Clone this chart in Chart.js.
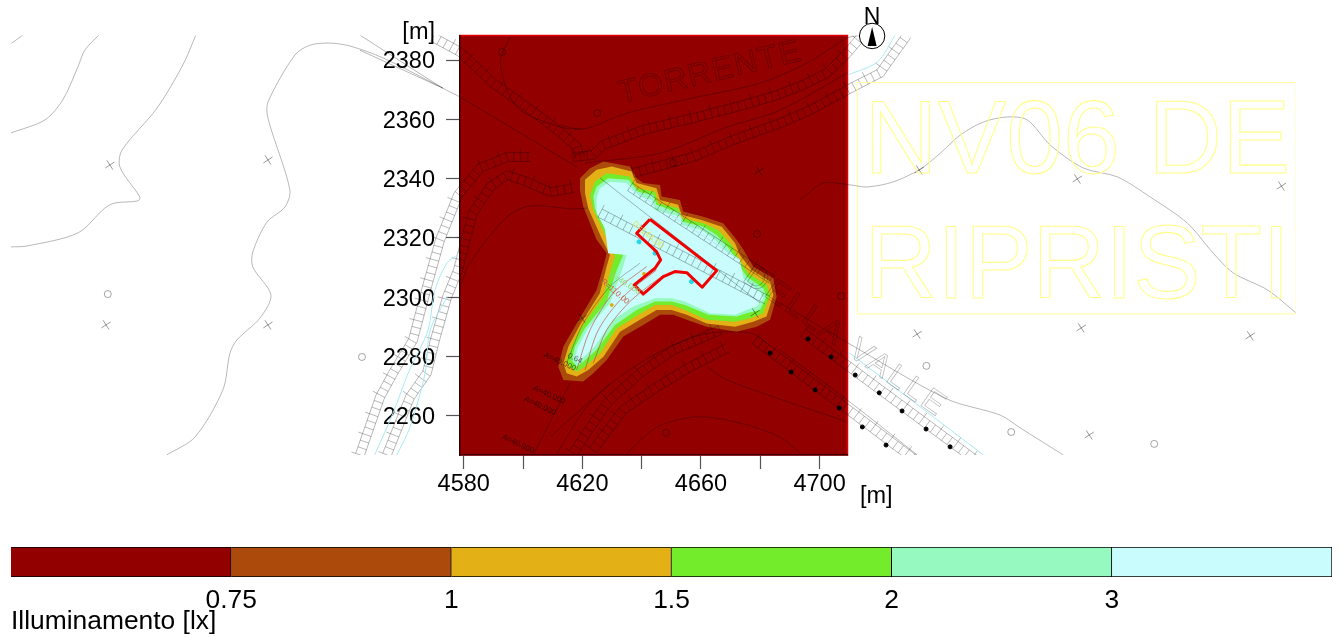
<!DOCTYPE html>
<html lang="en">

<head>
    <meta charset="UTF-8">
    <title>Illuminamento</title>
    <script src="https://cdn.jsdelivr.net/npm/chart.js"></script>
    <style>
        body {
            margin: 0;
            background: #fff;
        }

        canvas {
            position: absolute;
            left: 0;
        }

        #mapChart {
            top: 0;
        }

        #barChart {
            top: 510px;
        }
    </style>
</head>

<body>
    <canvas id="mapChart" width="1339" height="510"></canvas>
    <canvas id="barChart" width="1339" height="127"></canvas>
    <script>
        // axes
        const xTicks = [4580, 4600, 4620, 4640, 4660, 4680, 4700];
        const xTickLabels = ['4580', '', '4620', '', '4660', '', '4700'];
        const yTicks = [2260, 2280, 2300, 2320, 2340, 2360, 2380];
        const xRange = [4578.75, 4709.4];
        const yRange = [2246.85, 2388.26];

        // colour bar
        const bandLabels = ['< 0.75', '0.75 - 1', '1 - 1.5', '1.5 - 2', '2 - 3', '> 3'];
        const bandColors = ['#930000', '#ab4a0a', '#e3b015', '#72ec2b', '#96f9bf', '#c9fcfc'];
        const bandWidths = [1, 1, 1, 1, 1, 1];
        const barTickValues = [1, 2, 3, 4, 5];
        const barTickLabels = ['0.75', '1', '1.5', '2', '3'];

        // illuminance contours, metres
        const contour075 = [[4619.2, 2340.1], [4622.6, 2343.5], [4627.1, 2345.8], [4636, 2344.1], [4638.3, 2340.1], [4640.5, 2338.5], [4646.2, 2337.9], [4646.7, 2334], [4652.9, 2332.8], [4654, 2328.9], [4660.8, 2327.2], [4667.5, 2325], [4672, 2319.4], [4674.3, 2316], [4677.6, 2310.4], [4684.4, 2306.4], [4685.5, 2300.2], [4683.3, 2292.4], [4678.8, 2290.1], [4672, 2288.4], [4661.9, 2290.1], [4655.2, 2292.4], [4650.7, 2294.1], [4646.2, 2294.1], [4640.5, 2290.7], [4633.8, 2286.8], [4628.2, 2278.9], [4623.7, 2274.4], [4620.3, 2271.6], [4613.6, 2272.1], [4611.9, 2276.6], [4613.6, 2283.4], [4618.1, 2291.2], [4624.8, 2302.5], [4627.1, 2310.4], [4628.2, 2314.9], [4624.8, 2319.4], [4620.3, 2330.6], [4619.2, 2336.2]];
        const contour1 = [[4620.9, 2339.6], [4624.8, 2343], [4629.9, 2344.1], [4636.6, 2342.4], [4638.3, 2338.5], [4645, 2336.8], [4646.2, 2332.8], [4652.3, 2331.2], [4653.5, 2327.8], [4660.2, 2326.1], [4667, 2323.8], [4671.5, 2318.2], [4673.1, 2314.3], [4677.1, 2309.2], [4683.3, 2305.3], [4684.4, 2300.8], [4682.1, 2293.5], [4677.6, 2291.8], [4671.5, 2290.1], [4661.9, 2291.2], [4655.2, 2294.1], [4650.1, 2295.7], [4645, 2295.7], [4639.4, 2292.4], [4632.7, 2288.4], [4627.1, 2280], [4622, 2275.5], [4618.1, 2273.3], [4614.7, 2274.4], [4613.6, 2277.8], [4615.3, 2283.4], [4619.2, 2290.7], [4625.9, 2301.4], [4628.2, 2310.4], [4629.3, 2314.3], [4626.5, 2319.9], [4622, 2330], [4620.9, 2335.1]];
        const contour15 = [[4624.2, 2339], [4628.2, 2341.8], [4636, 2340.7], [4638.3, 2336.8], [4644.5, 2335.6], [4645.6, 2331.7], [4652.3, 2330], [4653.5, 2326.7], [4660.8, 2325], [4665.8, 2322.7], [4670.3, 2317.7], [4672.6, 2313.2], [4675.9, 2308.1], [4682.1, 2304.2], [4683.3, 2300.8], [4681, 2294.6], [4676.5, 2292.9], [4671.5, 2291.8], [4661.9, 2292.4], [4654.6, 2295.7], [4650.1, 2297.4], [4644.5, 2297.4], [4638.9, 2294.1], [4631.6, 2289.6], [4625.9, 2281.1], [4620.9, 2276.6], [4618.1, 2274.9], [4615.8, 2276.6], [4614.7, 2278.9], [4616.4, 2283.4], [4619.8, 2290.1], [4627.1, 2300.2], [4629.9, 2310.4], [4631, 2313.7], [4628.2, 2319.9], [4623.7, 2329.5], [4622.6, 2334.5]];
        const contour2 = [[4624.8, 2337.3], [4628.7, 2340.1], [4635.5, 2339.6], [4638.9, 2335.6], [4643.9, 2334.5], [4645, 2331.2], [4652.9, 2328.3], [4654, 2325.5], [4660.8, 2323.8], [4665.3, 2321], [4669.8, 2316], [4672, 2312], [4675.4, 2307], [4681, 2303.1], [4682.1, 2300.2], [4679.9, 2295.7], [4675.4, 2294.6], [4672, 2293.5], [4662.5, 2294.1], [4654.6, 2297.4], [4650.1, 2298.6], [4644.5, 2298.6], [4638.3, 2295.7], [4631, 2290.7], [4624.8, 2282.3], [4620.3, 2278.3], [4618.1, 2276.6], [4616.4, 2278.9], [4617.5, 2283.4], [4620.9, 2289.6], [4628.2, 2298.6], [4631.6, 2309.2], [4633.8, 2314.3], [4629.3, 2317.1], [4627.1, 2324.4], [4624.2, 2330], [4623.7, 2334]];
        const contour3 = [[4625.9, 2336.8], [4629.3, 2339], [4634.9, 2338.5], [4639.4, 2334], [4643.4, 2332.8], [4644.5, 2329.5], [4652.9, 2327.2], [4653.5, 2324.4], [4660.2, 2322.7], [4664.7, 2319.4], [4669.2, 2314.9], [4673.1, 2312.6], [4674.3, 2306.4], [4679.9, 2301.9], [4681, 2299.7], [4678.8, 2296.9], [4675.4, 2295.7], [4671.5, 2294.1], [4663, 2294.6], [4654.6, 2298.6], [4650.1, 2299.7], [4644.5, 2299.7], [4637.2, 2296.9], [4630.4, 2292.4], [4624.2, 2283.4], [4619.8, 2279.4], [4618.6, 2277.8], [4617.5, 2280], [4618.6, 2283.4], [4622, 2289.6], [4629.3, 2298], [4633.2, 2308.7], [4634.9, 2314.3], [4628.7, 2314.9], [4627.6, 2323.3], [4624.8, 2328.3], [4624.8, 2333.4]];
        const building = [[4642.8, 2326.3], [4665.3, 2309], [4660.4, 2303.4], [4655.2, 2308.3], [4651.2, 2308.7], [4647.3, 2307], [4640.5, 2301.1], [4637.5, 2304.2], [4644.5, 2309.8], [4646.4, 2312.6], [4645, 2315.4], [4638.3, 2321.6], [4642.8, 2326.3]];

        // base map, thin lines
        const mapLines = [
            [[4427.6, 2385.7], [4431.4, 2388.4]],
            [[4427.3, 2355.4], [4438.8, 2359.8], [4444.8, 2366.5], [4449.9, 2377.6], [4452.3, 2383.4], [4457, 2388.4]],
            [[4427.3, 2317], [4432.7, 2317.3], [4449.9, 2321.7], [4459, 2330.1], [4462.4, 2331.8], [4470.1, 2332.5], [4470.8, 2333.8], [4464.1, 2343.9], [4464.8, 2349.6], [4476.6, 2363.8], [4485.3, 2378.3], [4489.7, 2388.4]],
            [[4479.9, 2246.9], [4489.4, 2252.9], [4498.8, 2268.8], [4501.2, 2281.2], [4503.5, 2285.6], [4511.3, 2293], [4515, 2300.8], [4508.9, 2310.2], [4508.9, 2315.3], [4513.7, 2325.4], [4519.7, 2330.4], [4521.4, 2336.2], [4514, 2360.4], [4514, 2365.8], [4523.1, 2381.7], [4528.2, 2385], [4534.9, 2385.7], [4541.7, 2384.7], [4552.8, 2380.7], [4573, 2370.5]],
            [[4693.4, 2332.8], [4701.2, 2338.5], [4710.3, 2337.9], [4716, 2337.2], [4724.8, 2338.9], [4733.9, 2343.2], [4740.7, 2348.6], [4747.4, 2354.7], [4755.2, 2359.1], [4763.3, 2360.8], [4770, 2359.8], [4777.8, 2351.3], [4788.9, 2343.6], [4800.4, 2340.6], [4811.5, 2333.8], [4824, 2325], [4832.7, 2314.9], [4839.5, 2308.2], [4851, 2302.5], [4860.7, 2294.7]],
            [[4545, 2388.4], [4573, 2370.5], [4578.8, 2367.5], [4618.2, 2343.9]],
            [[4545, 2383.3], [4573, 2370.5]],
            [[4612.5, 2358.1], [4620.2, 2356.7], [4635.1, 2362.1], [4657.3, 2367.2], [4679.9, 2372.2], [4695.8, 2379], [4709.3, 2387.4], [4714.4, 2388.4]],
            [[4595.6, 2387.7], [4592.3, 2379], [4598, 2364.1], [4612.5, 2357.4], [4620.2, 2356.7]],
            [[4620.9, 2345.3], [4646.2, 2348.6], [4668.8, 2357.4], [4686.7, 2363.1], [4709.3, 2375.6]],
            [[4578.8, 2303.5], [4582.1, 2311.6], [4594.6, 2327.1], [4602.4, 2330.8], [4616.9, 2329.8], [4621.6, 2330.1]],
            [[4686.7, 2298.1], [4709.6, 2284.6], [4743, 2265.7], [4760.9, 2260.3], [4767.6, 2256], [4782.1, 2246.9]],
            [[4686.7, 2282.2], [4709.3, 2265.4], [4732.9, 2246.9]],
            [[4662.1, 2276.5], [4668.8, 2272.1], [4709.3, 2258]],
            [[4635.1, 2247.5], [4645.2, 2256.3], [4658.7, 2259.7], [4673.2, 2257.6], [4686.7, 2252.9], [4693.4, 2247.5]],
            [[4611.5, 2247.5], [4622.6, 2264.4], [4639.5, 2277.9], [4659.7, 2287.3], [4676.6, 2288], [4682.3, 2284.6]],
            [[4603.4, 2246.9], [4615.9, 2271.1]],
            [[4609.1, 2252.9], [4629.4, 2271.1]],
            [[4626, 2340.2], [4679.9, 2298.1]],
            [[4614.7, 2277.8], [4620.3, 2291.2], [4629.3, 2303.6], [4639.4, 2311.5]]
        ];
        const waterLines = [
            [[4709.6, 2281.6], [4755.2, 2246.9]],
            [[4635.4, 2337.2], [4673.2, 2312.6]],
            [[4550, 2246.9], [4556.2, 2261], [4561.3, 2274.5], [4568, 2289], [4570.3, 2302.5], [4574.4, 2311.6], [4578.1, 2314.3]],
            [[4557.5, 2246.9], [4561.9, 2256.3], [4567, 2274.5], [4568.7, 2289], [4574.4, 2300.1]],
            [[4709.6, 2375], [4719.4, 2379.3], [4725.5, 2388.4]]
        ];
        const arcLines = [
            [[4618.1, 2275.5], [4622.6, 2289], [4630.4, 2301.4], [4641.7, 2310.4]],
            [[4620.9, 2275.5], [4625.4, 2289], [4633.8, 2300.2], [4645, 2309.2]],
            [[4623.7, 2277.8], [4628.2, 2289], [4636.6, 2299.1], [4647.3, 2307.5]]
        ];
        const frameLine = [[4712.7, 2372.4], [4860.7, 2372.4], [4860.7, 2294.4], [4712.7, 2294.4], [4712.7, 2372.4]];

        // hatched roads
        const roads = [
            [[4545, 2246.9], [4551.8, 2266.4], [4556.2, 2274.5], [4562.9, 2285.6], [4567.6, 2303.5], [4572, 2319.3], [4578.1, 2334.5], [4585.5, 2343.6], [4594.6, 2347.3], [4602.4, 2347.3]],
            [[4554.1, 2246.9], [4561.9, 2266.4], [4567.6, 2274.5], [4570.3, 2285.6], [4574.4, 2300.1], [4578.1, 2309.2], [4580.4, 2318.3], [4583.1, 2328.4], [4588.9, 2337.2], [4594.6, 2341.2], [4601.4, 2338.9], [4609.1, 2335.5], [4616.9, 2336.8]],
            [[4569.6, 2387.7], [4578.8, 2382.7], [4589.9, 2372.2], [4601.4, 2364.1], [4612.5, 2355.7], [4618.2, 2350.7], [4619.2, 2347.3]],
            [[4616.9, 2347.3], [4623.6, 2348], [4627, 2351.3], [4640.5, 2356.4], [4657.3, 2360.4], [4674.2, 2364.8], [4685.7, 2368.2], [4694.5, 2371.6], [4702.5, 2375.6], [4709.3, 2382.3], [4713.6, 2387.4], [4715, 2388.4]],
            [[4637.1, 2341.9], [4657.3, 2347.3], [4670.8, 2353], [4686.7, 2358.7], [4696.8, 2363.1], [4709.3, 2369.9], [4720.4, 2375.6], [4729.5, 2388.4]],
            [[4626, 2328.4], [4682.3, 2299.1]],
            [[4636.1, 2337.2], [4684.3, 2305.8]],
            [[4694.5, 2288], [4752.5, 2245.2]],
            [[4678.3, 2285.6], [4732.2, 2245.2]],
            [[4616.9, 2247.5], [4628.3, 2264.4], [4639.5, 2274.5], [4650.6, 2282.2], [4666.5, 2289]],
            [[4623.6, 2248.5], [4633.7, 2262], [4645.2, 2269.8], [4656.3, 2276.5], [4668.8, 2282.9]]
        ];

        // point symbols
        const crossPoints = [[4460.7, 2344.6], [4514, 2346.3], [4459.4, 2290.7], [4514, 2290.7], [4733.6, 2342.9], [4786.9, 2339.9], [4855.7, 2337.5], [4732.9, 2287.6], [4788.2, 2289.7], [4845.2, 2287], [4790.9, 2253.6], [4679.6, 2342.6], [4678.3, 2294.7], [4619.9, 2293]];
        const circlePoints = [[4460, 2301.1], [4545.7, 2279.9], [4592.9, 2382.7], [4625, 2362.1], [4736, 2276.9], [4764.6, 2254.6], [4812.8, 2250.6], [4648.2, 2254.3], [4678.9, 2321.3], [4707.3, 2300.4], [4650.6, 2345.3]];
        const lampPoints = [[4696.1, 2286], [4703.9, 2279.9], [4712, 2273.8], [4720.1, 2267.8], [4727.8, 2261.7], [4735.9, 2255.6], [4744, 2249.6], [4683.3, 2281.2], [4690.4, 2274.8], [4698.5, 2268.8], [4706.6, 2262.7], [4714.4, 2256.3], [4722.4, 2250.2]];
        const cyanPoints = [[4639.1, 2318.7], [4644.5, 2314.9], [4656.8, 2305.3]];
        const yellowPoints = [[4640.8, 2307.9], [4629.9, 2297.4]];

        // map texts
        const mapTexts = [
            { text: 'TORRENTE', at: [4663.1, 2375.6], rot: -13.4, font: '32px "Liberation Sans"', color: 'rgba(0,0,0,.3)', outline: true, spacing: '1.5px' },
            { text: 'DELLA VALLE', at: [4708.6, 2284.9], rot: 35, font: '32px "Liberation Sans"', color: 'rgba(0,0,0,.28)', outline: true, spacing: '3px' },
            { text: 'A=40.000', at: [4608.8, 2267.1], rot: 25, font: '8px "Liberation Sans"', color: 'rgba(0,0,0,.6)' },
            { text: 'A=40.000', at: [4605.7, 2263.4], rot: 25, font: '8px "Liberation Sans"', color: 'rgba(0,0,0,.6)' },
            { text: 'A=40.000', at: [4598.3, 2250.6], rot: 25, font: '8px "Liberation Sans"', color: 'rgba(0,0,0,.6)' },
            { text: 'A=40.000', at: [4612.4, 2278.3], rot: 25, font: '8px "Liberation Sans"', color: 'rgba(0,0,0,.6)' },
            { text: '0.64', at: [4617.5, 2279.4], rot: 25, font: '8px "Liberation Sans"', color: 'rgba(0,0,0,.6)' },
            { text: '0=144.00', at: [4642.2, 2321], rot: 40, font: '9px "Liberation Sans"', color: '#d8e86a' },
            { text: 'A=40.000', at: [4634.4, 2304.7], rot: 32, font: '8px "Liberation Sans"', color: '#8fd86a' },
            { text: 'R=110.00', at: [4631, 2301.9], rot: 40, font: '8px "Liberation Sans"', color: '#c8604a' }
        ];
        const bigTexts = [
            { text: 'NV06 DE', at: [4715, 2341.9], width: 143.7 },
            { text: 'RIPRISTI', at: [4715, 2299.8], width: 143.7 }
        ];
        const northPoint = [4717.7, 2388.1];

        const tickFont = { family: '"Liberation Sans"', size: 23.5 };
        const barFont = { family: '"Liberation Sans"', size: 26.4 };
        const xy = (list) => list.map(([x, y]) => ({ x, y }));

        function lineSet(label, list, color, width, extra) {
            return Object.assign({
                label: label,
                data: xy(list),
                showLine: true,
                borderColor: color,
                borderWidth: width,
                pointRadius: 0,
                clip: { left: 449, right: 448, top: 0, bottom: 0 }
            }, extra);
        }

        function pointSet(label, list, style, radius, color, order) {
            return {
                label: label,
                data: xy(list),
                showLine: false,
                order: order,
                pointStyle: style,
                pointRadius: radius,
                pointRotation: style === 'crossRot' ? 12 : 0,
                pointBorderWidth: 1,
                pointBorderColor: color,
                pointBackgroundColor: style === 'circle' && radius < 3 ? color : 'transparent'
            };
        }

        const bands = [
            { name: '0.75', list: contour075, color: bandColors[1], order: 54 },
            { name: '1', list: contour1, color: bandColors[2], order: 53 },
            { name: '1.5', list: contour15, color: bandColors[3], order: 52 },
            { name: '2', list: contour2, color: bandColors[4], order: 51 },
            { name: '3', list: contour3, color: bandColors[5], order: 50 }
        ];

        const datasets = [];
        datasets.push(lineSet('base', [[xRange[0], yRange[0]], [xRange[1], yRange[0]], [xRange[1], yRange[1]], [xRange[0], yRange[1]], [xRange[0], yRange[0]]], '#e00000', 1.5, {
            order: 60, fill: 'shape', backgroundColor: bandColors[0], clip: 2
        }));
        bands.forEach((b) => {
            datasets.push(lineSet(b.name, b.list.concat([b.list[0]]), b.color, 0, {
                order: b.order, fill: 'shape', backgroundColor: b.color, clip: 0
            }));
        });
        mapLines.forEach((l, i) => datasets.push(lineSet('map' + i, l, 'rgba(0,0,0,.28)', 1, { order: 30, tension: 0.3 })));
        waterLines.forEach((l, i) => datasets.push(lineSet('water' + i, l, '#a9e9f5', 1, { order: 31, tension: 0.3 })));
        arcLines.forEach((l, i) => datasets.push(lineSet('arc' + i, l, 'rgba(190,60,60,.6)', 1, { order: 29, tension: 0.3 })));
        datasets.push(lineSet('frame', frameLine, '#ffff99', 1, { order: 32 }));
        datasets.push(lineSet('building', building, '#f00000', 3, { order: 5, borderJoinStyle: 'round' }));
        datasets.push(pointSet('cross', crossPoints, 'crossRot', 5.5, 'rgba(0,0,0,.4)', 20));
        datasets.push(pointSet('circle', circlePoints, 'circle', 3.5, 'rgba(0,0,0,.35)', 20));
        datasets.push(pointSet('lamp', lampPoints, 'circle', 2, '#000', 10));
        datasets.push(pointSet('cyan', cyanPoints, 'circle', 2, '#1fd8e8', 10));
        datasets.push(pointSet('yellow', yellowPoints, 'circle', 1.5, '#d8b010', 10));

        // ladder drawing for the hatched roads
        function drawRoad(ctx, chart, road) {
            const xs = chart.scales.x, ys = chart.scales.y;
            const p = road.map(([x, y]) => [xs.getPixelForValue(x), ys.getPixelForValue(y)]);
            const gap = 4.5, step = 7;
            const rail = (off) => {
                ctx.beginPath();
                p.forEach((q, i) => {
                    const a = p[Math.max(i - 1, 0)], b = p[Math.min(i + 1, p.length - 1)];
                    const len = Math.hypot(b[0] - a[0], b[1] - a[1]);
                    const nx = -(b[1] - a[1]) / len, ny = (b[0] - a[0]) / len;
                    ctx.lineTo(q[0] + nx * off, q[1] + ny * off);
                });
                ctx.stroke();
            };
            rail(-gap);
            rail(gap);
            let left = 0, n = 0;
            for (let i = 0; i < p.length - 1; i++) {
                const dx = p[i + 1][0] - p[i][0], dy = p[i + 1][1] - p[i][1];
                const len = Math.hypot(dx, dy);
                const ux = dx / len, uy = dy / len;
                for (let d = left; d < len; d += step) {
                    const cx = p[i][0] + ux * d, cy = p[i][1] + uy * d;
                    const out = n % 3 === 0 ? 9 : gap;
                    ctx.beginPath();
                    ctx.moveTo(cx + uy * out, cy - ux * out);
                    ctx.lineTo(cx - uy * gap, cy + ux * gap);
                    ctx.stroke();
                    n++;
                    left = d + step - len;
                }
            }
        }

        const mapExtras = {
            id: 'mapExtras',
            beforeDatasetDraw(chart, args) {
                // the point element skips anything outside the chart area, the map goes further
                if (chart.data.datasets[args.index].showLine !== false) return;
                args.meta.data.forEach((p) => p.draw(chart.ctx));
                return false;
            },
            afterDatasetDraw(chart, args) {
                if (chart.data.datasets[args.index].label !== '3') return;
                const ctx = chart.ctx, area = chart.chartArea;
                ctx.save();
                ctx.beginPath();
                ctx.rect(area.left - 449, area.top, area.width + 897, area.height);
                ctx.clip();
                ctx.strokeStyle = 'rgba(0,0,0,.28)';
                ctx.lineWidth = 1;
                roads.forEach((r) => drawRoad(ctx, chart, r));
                ctx.restore();
            },
            afterDatasetsDraw(chart) {
                const ctx = chart.ctx, xs = chart.scales.x, ys = chart.scales.y;
                ctx.save();
                mapTexts.forEach((t) => {
                    ctx.save();
                    ctx.translate(xs.getPixelForValue(t.at[0]), ys.getPixelForValue(t.at[1]));
                    ctx.rotate(t.rot * Math.PI / 180);
                    ctx.font = t.font;
                    ctx.letterSpacing = t.spacing || '0px';
                    ctx.textAlign = 'center';
                    ctx.textBaseline = 'middle';
                    if (t.outline) {
                        ctx.strokeStyle = t.color;
                        ctx.lineWidth = 0.8;
                        ctx.strokeText(t.text, 0, 0);
                    } else {
                        ctx.fillStyle = t.color;
                        ctx.fillText(t.text, 0, 0);
                    }
                    ctx.restore();
                });
                ctx.strokeStyle = '#ffff8c';
                ctx.lineWidth = 1.1;
                ctx.font = '103px "Liberation Sans"';
                ctx.textAlign = 'left';
                ctx.textBaseline = 'alphabetic';
                bigTexts.forEach((t) => {
                    const px = xs.getPixelForValue(t.at[0]);
                    const w = xs.getPixelForValue(t.at[0] + t.width) - px;
                    ctx.strokeText(t.text, px, ys.getPixelForValue(t.at[1]), w);
                });

                // north arrow
                const nx = xs.getPixelForValue(northPoint[0]), ny = ys.getPixelForValue(northPoint[1]);
                ctx.beginPath();
                ctx.arc(nx, ny, 12.7, 0, Math.PI * 2);
                ctx.fillStyle = '#fff';
                ctx.fill();
                ctx.strokeStyle = '#000';
                ctx.lineWidth = 1;
                ctx.stroke();
                ctx.beginPath();
                ctx.moveTo(nx, ny - 9);
                ctx.lineTo(nx - 4.5, ny + 10);
                ctx.lineTo(nx + 4.5, ny + 10);
                ctx.closePath();
                ctx.fillStyle = '#000';
                ctx.fill();
                ctx.font = '23px "Liberation Sans"';
                ctx.textAlign = 'center';
                ctx.textBaseline = 'alphabetic';
                ctx.fillText('N', nx, ny - 12);

                // axis units
                ctx.font = '23.5px "Liberation Sans"';
                ctx.textAlign = 'right';
                ctx.textBaseline = 'middle';
                ctx.fillText('[m]', 435, 33);
                ctx.textAlign = 'left';
                ctx.fillText('[m]', 860, 497);
                ctx.restore();
            }
        };

        new Chart(document.getElementById('mapChart'), {
            type: 'scatter',
            data: { datasets: datasets },
            plugins: [mapExtras],
            options: {
                responsive: false,
                animation: false,
                layout: { autoPadding: false, padding: { left: 0, top: 35.5, right: 491.5, bottom: 0 } },
                plugins: { legend: { display: false }, tooltip: { enabled: false } },
                scales: {
                    x: {
                        type: 'linear',
                        bounds: 'data',
                        // limits set here and not as min/max, user bounds would cut the lines that run past the plot
                        afterDataLimits: (s) => { s.min = xRange[0]; s.max = xRange[1]; },
                        afterBuildTicks: (s) => { s.ticks = xTicks.map((v) => ({ value: v })); },
                        afterFit: (s) => { s.height = 55; },
                        ticks: {
                            autoSkip: false,
                            maxRotation: 0,
                            padding: 1,
                            color: '#000',
                            font: tickFont,
                            callback: (v, i) => xTickLabels[i]
                        },
                        grid: { drawOnChartArea: false, tickLength: 14, tickColor: '#555', tickWidth: 1.2 },
                        border: { color: '#3a0000', width: 1.5, z: 1 }
                    },
                    y: {
                        type: 'linear',
                        bounds: 'data',
                        afterDataLimits: (s) => { s.min = yRange[0]; s.max = yRange[1]; },
                        afterBuildTicks: (s) => { s.ticks = yTicks.map((v) => ({ value: v })); },
                        afterFit: (s) => { s.width = 460; },
                        ticks: {
                            autoSkip: false,
                            padding: 11,
                            labelOffset: 2,
                            color: '#000',
                            font: tickFont,
                            callback: (v) => String(v)
                        },
                        grid: { drawOnChartArea: false, tickLength: 14, tickColor: '#555', tickWidth: 1.2 },
                        border: { color: '#200000', width: 1.5, z: 1 }
                    }
                }
            }
        });

        new Chart(document.getElementById('barChart'), {
            type: 'bar',
            data: {
                labels: ['Illuminamento'],
                datasets: bandLabels.map((name, i) => ({
                    label: name,
                    data: [bandWidths[i]],
                    backgroundColor: bandColors[i],
                    borderColor: '#000',
                    borderWidth: 1,
                    barPercentage: 1,
                    categoryPercentage: 1
                }))
            },
            options: {
                indexAxis: 'y',
                responsive: false,
                animation: false,
                layout: { autoPadding: false, padding: { left: 11, top: 37, right: 7, bottom: 0 } },
                plugins: { legend: { display: false }, tooltip: { enabled: false } },
                scales: {
                    x: {
                        type: 'linear',
                        stacked: true,
                        min: 0,
                        max: 6,
                        afterBuildTicks: (s) => { s.ticks = barTickValues.map((v) => ({ value: v })); },
                        afterFit: (s) => { s.height = 60; },
                        ticks: {
                            autoSkip: false,
                            maxRotation: 0,
                            padding: 0,
                            color: '#000',
                            font: barFont,
                            callback: (v, i) => barTickLabels[i]
                        },
                        grid: { display: false },
                        border: { display: false },
                        title: {
                            display: true,
                            text: 'Illuminamento [lx]',
                            align: 'start',
                            color: '#000',
                            font: barFont,
                            padding: { top: 0, bottom: -1 }
                        }
                    },
                    y: { stacked: true, display: false }
                }
            }
        });
    </script>
</body>

</html>
